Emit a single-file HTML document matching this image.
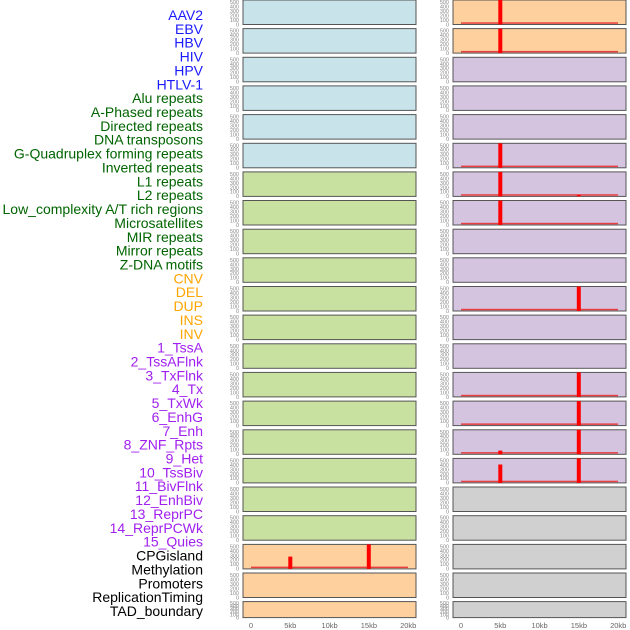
<!DOCTYPE html>
<html><head><meta charset="utf-8"><style>
html,body{margin:0;padding:0;background:#fff;width:630px;height:630px;overflow:hidden}
svg{display:block;font-family:"Liberation Sans",sans-serif}
</style></head><body>
<svg id="s" width="630" height="630" xmlns="http://www.w3.org/2000/svg"></svg>
<script>
var s=document.getElementById('s'),h='';
var labels=[["AAV2","#1a1aff"],["EBV","#1a1aff"],["HBV","#1a1aff"],["HIV","#1a1aff"],["HPV","#1a1aff"],["HTLV-1","#1a1aff"],
["Alu repeats","#006400"],["A-Phased repeats","#006400"],["Directed repeats","#006400"],["DNA transposons","#006400"],["G-Quadruplex forming repeats","#006400"],["Inverted repeats","#006400"],["L1 repeats","#006400"],["L2 repeats","#006400"],["Low_complexity A/T rich regions","#006400"],["Microsatellites","#006400"],["MIR repeats","#006400"],["Mirror repeats","#006400"],["Z-DNA motifs","#006400"],
["CNV","#ffa500"],["DEL","#ffa500"],["DUP","#ffa500"],["INS","#ffa500"],["INV","#ffa500"],
["1_TssA","#a020f0"],["2_TssAFlnk","#a020f0"],["3_TxFlnk","#a020f0"],["4_Tx","#a020f0"],["5_TxWk","#a020f0"],["6_EnhG","#a020f0"],["7_Enh","#a020f0"],["8_ZNF_Rpts","#a020f0"],["9_Het","#a020f0"],["10_TssBiv","#a020f0"],["11_BivFlnk","#a020f0"],["12_EnhBiv","#a020f0"],["13_ReprPC","#a020f0"],["14_ReprPCWk","#a020f0"],["15_Quies","#a020f0"],
["CPGisland","#000"],["Methylation","#000"],["Promoters","#000"],["ReplicationTiming","#000"],["TAD_boundary","#000"]];
labels.forEach(function(l,i){h+='<text x="203" y="'+(20+i*13.86).toFixed(1)+'" text-anchor="end" font-size="14" fill="'+l[1]+'">'+l[0]+'</text>';});
var BL='#c8e3ea',GR='#c8e0a0',OR='#fdd09d',PU='#d4c4e0',GY='#d0d0d0';
function lc(r){return r<6?BL:(r<19?GR:OR);}
function rc(r){return r<2?OR:(r<17?PU:GY);}
var bars=[[0,1,5,1],[1,1,5,1],[5,1,5,1],[6,1,5,1],[6,1,15,0.06],[7,1,5,1],[10,1,15,1],[13,1,15,1],[14,1,15,1],[15,1,15,1],[15,1,5,0.15],[16,1,15,1],[16,1,5,0.75],[19,0,5,0.5],[19,0,15,1]];
var baseRows={'0,1':1,'1,1':1,'5,1':1,'6,1':1,'7,1':1,'10,1':1,'13,1':1,'14,1':1,'15,1':1,'16,1':1,'19,0':1};
var ticksDefault=["0","100","200","300","400","500"];
for(var r=0;r<22;r++){
 var y=r*28.65, hh=(r==21)?16:24.5;
 [[243,lc(r),0],[453,rc(r),1]].forEach(function(p){
  var x=p[0];
  h+='<rect x="'+x+'" y="'+y.toFixed(1)+'" width="173" height="'+hh+'" fill="'+p[1]+'" stroke="#555" stroke-width="1"/>';
  for(var k=0;k<6;k++){var ty=y+hh-k*hh/5.5;h+='<text x="'+(x-4)+'" y="'+(ty+1.8).toFixed(1)+'" text-anchor="end" font-size="5.5" fill="#888">'+ticksDefault[k]+'</text>';}
  if(baseRows[r+','+p[2]])h+='<rect x="'+(x+8)+'" y="'+(y+hh-2.2).toFixed(1)+'" width="157" height="1.5" fill="#e84040"/>';
 });
}
bars.forEach(function(b){
 var r=b[0],y=r*28.65,hh=24.5,x0=(b[1]?461:251)+b[2]*7.85;
 var bh=hh*b[3];
 h+='<rect x="'+(x0-2).toFixed(1)+'" y="'+(y+hh-bh).toFixed(1)+'" width="4" height="'+bh.toFixed(1)+'" fill="#ff0000"/>';
});
var xl=["0","5kb","10kb","15kb","20kb"];
for(var i=0;i<5;i++){
 h+='<text x="'+(251+i*39.3).toFixed(1)+'" y="628" text-anchor="middle" font-size="7.5" fill="#666">'+xl[i]+'</text>';
 h+='<text x="'+(461+i*39.3).toFixed(1)+'" y="628" text-anchor="middle" font-size="7.5" fill="#666">'+xl[i]+'</text>';
}
s.innerHTML=h;
</script>
</body></html>
